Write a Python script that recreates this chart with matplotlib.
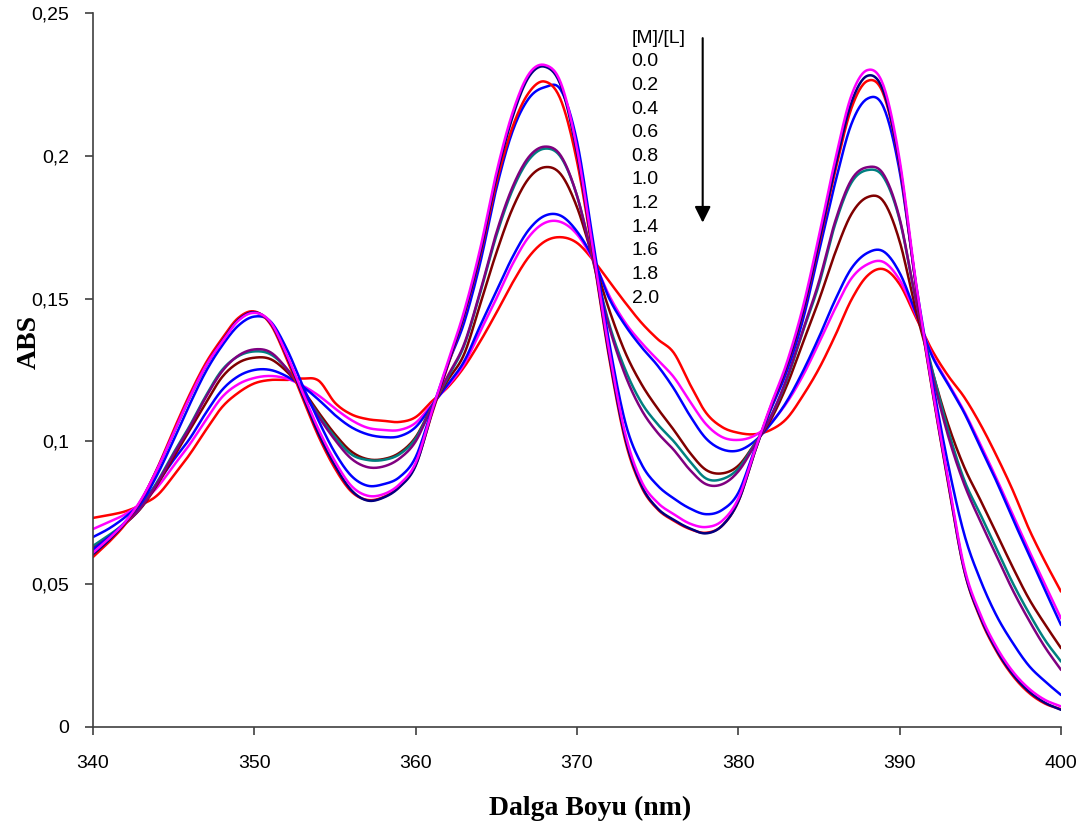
"""UV-Vis titration spectra: ABS vs wavelength for increasing [M]/[L]."""
import numpy as np
import matplotlib
matplotlib.use("Agg")
import matplotlib.pyplot as plt
from matplotlib.ticker import FuncFormatter

wavelength = np.arange(340, 401)  # nm, 1 nm steps

# absorbance, one list per titration step
abs_navy = [0.0605, 0.0655, 0.0715, 0.0795, 0.0905, 0.1030, 0.1155, 0.1265, 0.1350, 0.1425,
            0.1452, 0.1415, 0.1300, 0.1160, 0.1025, 0.0915, 0.0830, 0.0793, 0.0803, 0.0840,
            0.0915, 0.1100, 0.1270, 0.1445, 0.1660, 0.1925, 0.2135, 0.2275, 0.2312, 0.2245,
            0.2010, 0.1660, 0.1300, 0.1010, 0.0845, 0.0765, 0.0725, 0.0695, 0.0678, 0.0705,
            0.0790, 0.0960, 0.1120, 0.1265, 0.1455, 0.1700, 0.1960, 0.2185, 0.2280, 0.2225,
            0.1970, 0.1550, 0.1190, 0.0860, 0.0550, 0.0385, 0.0270, 0.0185, 0.0125, 0.0085,
            0.0060]
abs_magenta = [0.0610, 0.0660, 0.0718, 0.0798, 0.0905, 0.1030, 0.1155, 0.1265, 0.1348, 0.1422,
               0.1450, 0.1418, 0.1305, 0.1170, 0.1040, 0.0930, 0.0845, 0.0810, 0.0815, 0.0850,
               0.0925, 0.1105, 0.1280, 0.1455, 0.1675, 0.1940, 0.2150, 0.2285, 0.2318, 0.2255,
               0.2025, 0.1670, 0.1315, 0.1025, 0.0860, 0.0785, 0.0745, 0.0712, 0.0700, 0.0722,
               0.0800, 0.0965, 0.1125, 0.1275, 0.1470, 0.1720, 0.1985, 0.2210, 0.2300, 0.2245,
               0.1985, 0.1560, 0.1195, 0.0870, 0.0560, 0.0395, 0.0280, 0.0195, 0.0135, 0.0095,
               0.0072]
abs_red = [0.0595, 0.0648, 0.0710, 0.0795, 0.0908, 0.1040, 0.1165, 0.1275, 0.1360, 0.1432,
           0.1455, 0.1410, 0.1290, 0.1150, 0.1015, 0.0905, 0.0825, 0.0795, 0.0805, 0.0842,
           0.0918, 0.1095, 0.1265, 0.1440, 0.1650, 0.1905, 0.2100, 0.2220, 0.2260, 0.2195,
           0.1980, 0.1650, 0.1290, 0.1000, 0.0840, 0.0762, 0.0722, 0.0693, 0.0680, 0.0705,
           0.0790, 0.0960, 0.1120, 0.1262, 0.1450, 0.1690, 0.1945, 0.2165, 0.2262, 0.2215,
           0.1965, 0.1545, 0.1185, 0.0855, 0.0548, 0.0380, 0.0265, 0.0180, 0.0120, 0.0082,
           0.0062]
abs_blue = [0.0620, 0.0665, 0.0718, 0.0785, 0.0885, 0.1005, 0.1130, 0.1245, 0.1335, 0.1405,
            0.1437, 0.1420, 0.1325, 0.1195, 0.1070, 0.0960, 0.0880, 0.0845, 0.0850, 0.0875,
            0.0945, 0.1110, 0.1270, 0.1415, 0.1625, 0.1885, 0.2085, 0.2200, 0.2240, 0.2230,
            0.2050, 0.1700, 0.1345, 0.1065, 0.0920, 0.0845, 0.0800, 0.0765, 0.0745, 0.0760,
            0.0820, 0.0970, 0.1110, 0.1245, 0.1425, 0.1665, 0.1905, 0.2110, 0.2200, 0.2170,
            0.1945, 0.1555, 0.1220, 0.0920, 0.0675, 0.0515, 0.0390, 0.0295, 0.0215, 0.0160,
            0.0112]
abs_purple = [0.0623, 0.0665, 0.0712, 0.0770, 0.0855, 0.0955, 0.1050, 0.1155, 0.1245, 0.1300,
              0.1322, 0.1312, 0.1255, 0.1175, 0.1085, 0.1005, 0.0940, 0.0910, 0.0912, 0.0940,
              0.1000, 0.1120, 0.1230, 0.1340, 0.1525, 0.1730, 0.1890, 0.1995, 0.2032, 0.2000,
              0.1860, 0.1630, 0.1400, 0.1230, 0.1110, 0.1030, 0.0970, 0.0900, 0.0850, 0.0850,
              0.0895, 0.0985, 0.1085, 0.1220, 0.1390, 0.1560, 0.1770, 0.1915, 0.1960, 0.1935,
              0.1780, 0.1495, 0.1240, 0.1020, 0.0850, 0.0720, 0.0600, 0.0480, 0.0375, 0.0280,
              0.0200]
abs_teal = [0.0634, 0.0672, 0.0715, 0.0772, 0.0860, 0.0960, 0.1055, 0.1160, 0.1250, 0.1298,
            0.1315, 0.1305, 0.1255, 0.1175, 0.1090, 0.1015, 0.0955, 0.0935, 0.0935, 0.0955,
            0.1010, 0.1120, 0.1225, 0.1335, 0.1520, 0.1720, 0.1880, 0.1985, 0.2025, 0.1995,
            0.1860, 0.1635, 0.1410, 0.1250, 0.1135, 0.1060, 0.1000, 0.0930, 0.0870, 0.0868,
            0.0905, 0.0990, 0.1085, 0.1215, 0.1385, 0.1550, 0.1760, 0.1905, 0.1950, 0.1925,
            0.1775, 0.1495, 0.1255, 0.1040, 0.0865, 0.0745, 0.0625, 0.0505, 0.0400, 0.0305,
            0.0229]
abs_maroon = [0.0630, 0.0668, 0.0712, 0.0768, 0.0850, 0.0945, 0.1040, 0.1135, 0.1225, 0.1275,
              0.1293, 0.1288, 0.1245, 0.1180, 0.1100, 0.1025, 0.0965, 0.0938, 0.0938, 0.0960,
              0.1015, 0.1120, 0.1215, 0.1305, 0.1480, 0.1660, 0.1815, 0.1920, 0.1960, 0.1935,
              0.1820, 0.1640, 0.1460, 0.1310, 0.1200, 0.1115, 0.1040, 0.0960, 0.0900, 0.0888,
              0.0915, 0.0990, 0.1075, 0.1195, 0.1345, 0.1495, 0.1660, 0.1795, 0.1855, 0.1840,
              0.1700, 0.1460, 0.1250, 0.1060, 0.0910, 0.0795, 0.0678, 0.0560, 0.0450, 0.0360,
              0.0276]
abs_blue2 = [0.0665, 0.0695, 0.0735, 0.0785, 0.0855, 0.0935, 0.1010, 0.1100, 0.1180, 0.1228,
             0.1250, 0.1250, 0.1228, 0.1192, 0.1145, 0.1092, 0.1050, 0.1025, 0.1015, 0.1018,
             0.1050, 0.1125, 0.1200, 0.1280, 0.1405, 0.1525, 0.1645, 0.1740, 0.1790, 0.1790,
             0.1735, 0.1640, 0.1500, 0.1405, 0.1330, 0.1265, 0.1185, 0.1090, 0.1010, 0.0972,
             0.0968, 0.1000, 0.1060, 0.1140, 0.1245, 0.1365, 0.1495, 0.1605, 0.1660, 0.1665,
             0.1590, 0.1450, 0.1300, 0.1200, 0.1100, 0.0980, 0.0860, 0.0730, 0.0605, 0.0480,
             0.0357]
abs_magenta2 = [0.0693, 0.0718, 0.0745, 0.0785, 0.0840, 0.0915, 0.0990, 0.1075, 0.1155, 0.1200,
                0.1222, 0.1229, 0.1220, 0.1195, 0.1160, 0.1115, 0.1075, 0.1048, 0.1040, 0.1040,
                0.1065, 0.1130, 0.1195, 0.1270, 0.1385, 0.1500, 0.1620, 0.1715, 0.1765, 0.1768,
                0.1725, 0.1635, 0.1510, 0.1415, 0.1345, 0.1285, 0.1225, 0.1140, 0.1060, 0.1015,
                0.1005, 0.1020, 0.1065, 0.1135, 0.1230, 0.1345, 0.1465, 0.1570, 0.1620, 0.1628,
                0.1565, 0.1445, 0.1305, 0.1205, 0.1105, 0.0990, 0.0870, 0.0745, 0.0620, 0.0500,
                0.0380]
abs_red2 = [0.0732, 0.0742, 0.0755, 0.0778, 0.0812, 0.0880, 0.0955, 0.1040, 0.1120, 0.1170,
            0.1203, 0.1215, 0.1215, 0.1220, 0.1212, 0.1135, 0.1095, 0.1078, 0.1072, 0.1068,
            0.1085, 0.1140, 0.1190, 0.1260, 0.1350, 0.1450, 0.1555, 0.1645, 0.1700, 0.1715,
            0.1695, 0.1635, 0.1560, 0.1485, 0.1415, 0.1358, 0.1310, 0.1200, 0.1100, 0.1050,
            0.1030, 0.1025, 0.1040, 0.1080, 0.1160, 0.1255, 0.1370, 0.1495, 0.1580, 0.1603,
            0.1550, 0.1435, 0.1320, 0.1230, 0.1155, 0.1060, 0.0950, 0.0830, 0.0695, 0.0580,
            0.0474]

series = [abs_red2, abs_magenta2, abs_blue2, abs_maroon, abs_teal, abs_purple,
          abs_blue, abs_red, abs_navy, abs_magenta]
colors = ["#FF0000", "#FF00FF", "#0000FF", "#800000", "#008080", "#800080",
          "#0000FF", "#FF0000", "#000080", "#FF00FF"]

ratios = ["0.0", "0.2", "0.4", "0.6", "0.8", "1.0", "1.2", "1.4", "1.6", "1.8", "2.0"]


def smooth(x, y, n=16):
    """Cubic Hermite through the points (like a smoothed Excel line)."""
    x = np.asarray(x, float); y = np.asarray(y, float)
    m = np.gradient(y, x)
    t = np.linspace(0, 1, n, endpoint=False)
    h00 = 2 * t**3 - 3 * t**2 + 1
    h10 = t**3 - 2 * t**2 + t
    h01 = -2 * t**3 + 3 * t**2
    h11 = t**3 - t**2
    xs, ys = [], []
    for i in range(len(x) - 1):
        h = x[i + 1] - x[i]
        xs.append(x[i] + t * h)
        ys.append(h00 * y[i] + h10 * h * m[i] + h01 * y[i + 1] + h11 * h * m[i + 1])
    xs.append([x[-1]]); ys.append([y[-1]])
    return np.concatenate(xs), np.concatenate(ys)


fig = plt.figure(figsize=(10.89, 8.33), dpi=100)
ax = fig.add_axes([0.0854, 0.1273, 0.8889, 0.8571])

for vals, c in zip(series, colors):
    xs, ys = smooth(wavelength, vals)
    ax.plot(xs, ys, color=c, lw=1.8, solid_capstyle="round")

ax.set_xlim(340, 400)
ax.set_ylim(0, 0.25)
ax.set_xticks(np.arange(340, 401, 10))
ax.set_yticks(np.arange(0, 0.2501, 0.05))
ax.yaxis.set_major_formatter(FuncFormatter(lambda v, p: f"{v:.2f}".rstrip("0").rstrip(".").replace(".", ",")))

for s in ["top", "right"]:
    ax.spines[s].set_visible(False)
for s in ["left", "bottom"]:
    ax.spines[s].set_color("#404040")
    ax.spines[s].set_linewidth(1.2)
ax.tick_params(axis="both", direction="out", length=6, width=1.2, color="#404040",
               labelsize=14, labelcolor="black")
ax.tick_params(axis="x", pad=14)
ax.tick_params(axis="y", pad=11)
for lab in ax.get_xticklabels() + ax.get_yticklabels():
    lab.set_family(["Liberation Sans", "DejaVu Sans"])

ax.set_xlabel("Dalga Boyu (nm)", family="Liberation Serif", fontweight="bold", fontsize=20)
ax.set_ylabel("ABS", family="Liberation Serif", fontweight="bold", fontsize=20)
ax.xaxis.set_label_coords(0.5134, -0.097)
ax.yaxis.set_label_coords(-0.053, 0.539)

# ratio list with downward arrow
ax.text(373.39, 0.2412, "[M]/[L]", fontsize=14, family="Liberation Sans", va="center", ha="left")
for i, r in enumerate(ratios):
    ax.text(373.39, 0.23295 - i * 0.008284, r, fontsize=14, family="Liberation Sans",
            va="center", ha="left")
ax.annotate("", xy=(377.79, 0.1766), xytext=(377.79, 0.2412),
            arrowprops=dict(arrowstyle="-|>", color="black", lw=1.5, mutation_scale=24,
                            shrinkA=0, shrinkB=0))

plt.savefig("out.png", dpi=100)
